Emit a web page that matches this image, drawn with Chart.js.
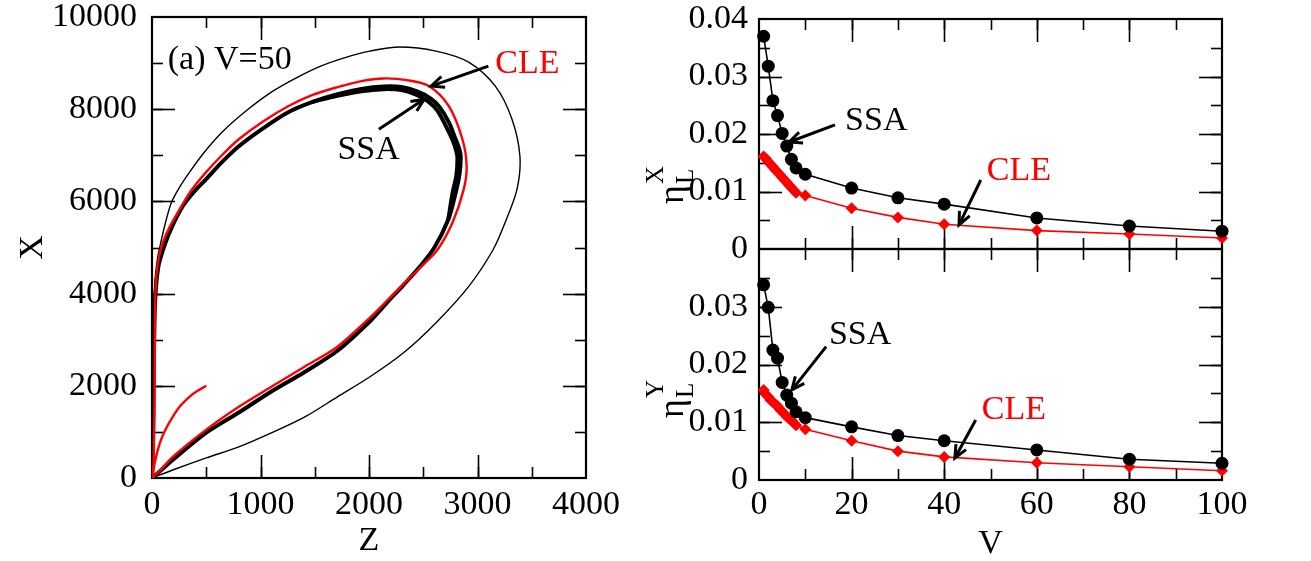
<!DOCTYPE html>
<html>
<head>
<meta charset="utf-8">
<script src="https://cdn.jsdelivr.net/npm/chart.js@4.4.0/dist/chart.umd.min.js"></script>
<style>
  html, body { margin: 0; padding: 0; background: #fff; }
  #wrap { position: relative; width: 1311px; height: 561px; overflow: hidden; }
  canvas { position: absolute; top: 0; }
</style>
</head>
<body>
<div id="wrap">
  <canvas id="cLeft" width="630" height="561" style="left:0"></canvas>
  <canvas id="cTop" width="681" height="561" style="left:630px"></canvas>
  <canvas id="cBot" width="681" height="561" style="left:630px"></canvas>
</div>
<script>
'use strict';
// (a) phase portrait X vs Z at V=50: outer thin loop, SSA band, CLE trajectory
const outerZ = [0, 4, 7, 10, 15, 28, 50, 73, 120, 179, 260, 345, 480, 645, 860, 1100, 1330, 1555, 1780, 2009, 2282, 2618, 2918, 3164, 3318, 3391, 3364, 3255, 3145, 2918, 2618, 2318, 2009, 1709, 1409, 1100, 800, 500, 191, 0];
const outerX = [0, 800, 1800, 2800, 3600, 4300, 4750, 5022, 5500, 5978, 6330, 6630, 7060, 7500, 7950, 8370, 8680, 8935, 9120, 9261, 9348, 9261, 9022, 8500, 7783, 6978, 6261, 5543, 4957, 4152, 3370, 2717, 2196, 1761, 1326, 978, 674, 435, 174, 0];

const ssaZ = [0, 10, 15, 20, 30, 60, 118, 190, 282, 380, 497, 640, 800, 1020, 1255, 1480, 1709, 1930, 2133, 2300, 2450, 2570, 2650, 2740, 2790, 2830, 2845, 2835, 2800, 2730, 2600, 2460, 2315, 2160, 2009, 1709, 1400, 1100, 800, 497, 191, 60, 0];
const ssaX = [0, 1000, 2000, 3000, 3900, 4600, 5065, 5480, 5891, 6190, 6478, 6840, 7196, 7580, 7935, 8160, 8326, 8440, 8493, 8480, 8380, 8230, 8050, 7700, 7400, 7150, 6978, 6600, 6200, 5600, 4990, 4560, 4180, 3790, 3400, 2760, 2290, 1877, 1420, 978, 391, 120, 0];
const ssaInZ = [1480, 1709, 1930, 2133, 2300, 2440, 2550, 2630, 2710, 2770, 2805, 2815, 2805, 2770, 2730];
const ssaInX = [8160, 8290, 8390, 8435, 8415, 8310, 8160, 7970, 7630, 7330, 7090, 6920, 6560, 6180, 5600];

const cleZ = [500, 420, 345, 260, 191, 120, 73, 30, 5, 14, 20, 24, 26, 28, 33, 45, 65, 100, 170, 255, 360, 497, 640, 800, 1020, 1255, 1480, 1709, 1930, 2133, 2350, 2555, 2736, 2861, 2900, 2873, 2770, 2633, 2490, 2340, 2180, 2009, 1709, 1406, 1100, 800, 497, 191, 60, 0];
const cleX = [2000, 1890, 1761, 1560, 1326, 1030, 761, 380, 60, 300, 1000, 2000, 3000, 3600, 4100, 4500, 4800, 5109, 5480, 5826, 6230, 6630, 6990, 7348, 7730, 8065, 8310, 8478, 8610, 8667, 8630, 8500, 8065, 7348, 6761, 6261, 5543, 4957, 4600, 4260, 3880, 3480, 2848, 2413, 1978, 1543, 1043, 457, 130, 0];

// right panels: eta_L^X (top) and eta_L^Y (bottom) vs V
const ssaV = [1, 2, 3, 4, 5, 6, 7, 8, 10, 20, 30, 40, 60, 80, 100];
const ssaEtaX = [0.0370, 0.0318, 0.0258, 0.0232, 0.0201, 0.0179, 0.0156, 0.0141, 0.0130, 0.0106, 0.0089, 0.0078, 0.0054, 0.0040, 0.0031];
const ssaEtaY = [0.0338, 0.0299, 0.0225, 0.0211, 0.0169, 0.0147, 0.0133, 0.0118, 0.0108, 0.0092, 0.0077, 0.0068, 0.0052, 0.0036, 0.0029];
const cleV = [1, 1.5, 2, 2.5, 3, 3.5, 4, 4.5, 5, 5.5, 6, 6.5, 7, 7.5, 8, 10, 20, 30, 40, 60, 80, 100];
const cleEtaX = [0.0161, 0.0157, 0.0152, 0.0147, 0.0143, 0.0138, 0.0134, 0.0129, 0.0125, 0.0120, 0.0116, 0.0111, 0.0107, 0.0102, 0.0098, 0.0093, 0.0071, 0.0055, 0.0043, 0.0032, 0.0026, 0.0019];
const cleEtaY = [0.0156, 0.0148, 0.0144, 0.0138, 0.0135, 0.0131, 0.0128, 0.0122, 0.0119, 0.0114, 0.0110, 0.0106, 0.0103, 0.0099, 0.0095, 0.0088, 0.0068, 0.0050, 0.0040, 0.0030, 0.0023, 0.0016];

const FONT = 'Liberation Serif';
const RED = '#ff0000';

const pts = (xs, ys) => xs.map((v, i) => ({ x: v, y: ys[i] }));
const steps = (min, max, step) => { const out = []; for (let v = min + step; v < max - step / 1e3; v += step) out.push(+v.toFixed(6)); return out; };

// frame + inward ticks on all four sides (xmgrace style)
const frameTicks = {
  id: 'frameTicks',
  beforeDatasetsDraw(chart, args, o) {
    const { ctx, chartArea: a, scales: { x, y } } = chart;
    const line = (x1, y1, x2, y2) => { ctx.beginPath(); ctx.moveTo(x1, y1); ctx.lineTo(x2, y2); ctx.stroke(); };
    ctx.save();
    ctx.strokeStyle = '#000';
    ctx.lineWidth = 1.6;
    [[o.xMinor, 11], [o.xMajor, 23]].forEach(([st, len]) => steps(x.min, x.max, st).forEach((v) => {
      const p = Math.round(x.getPixelForValue(v)) + 0.5;
      line(p, a.bottom, p, a.bottom - len); line(p, a.top, p, a.top + len);
    }));
    [[o.yMinor, 11], [o.yMajor, 23]].forEach(([st, len]) => steps(y.min, y.max, st).forEach((v) => {
      const p = Math.round(y.getPixelForValue(v)) + 0.5;
      line(a.left, p, a.left + len, p); line(a.right, p, a.right - len, p);
    }));
    ctx.lineWidth = 2.2;
    ctx.strokeRect(a.left, a.top, a.right - a.left, a.bottom - a.top);
    ctx.restore();
  },
};

// text labels and arrows placed in data coordinates
const notes = {
  id: 'notes',
  afterDatasetsDraw(chart, args, o) {
    const { ctx, scales: { x, y } } = chart;
    ctx.save();
    (o.items || []).forEach((it) => {
      if (it.text) {
        ctx.font = '34px "' + FONT + '"';
        ctx.fillStyle = it.color || '#000';
        ctx.textAlign = 'left'; ctx.textBaseline = 'middle';
        ctx.fillText(it.text, x.getPixelForValue(it.x), y.getPixelForValue(it.y));
      } else {
        const x1 = x.getPixelForValue(it.x1), y1 = y.getPixelForValue(it.y1);
        const x2 = x.getPixelForValue(it.x2), y2 = y.getPixelForValue(it.y2);
        const ang = Math.atan2(y2 - y1, x2 - x1), h = 14, s = 0.42;
        ctx.strokeStyle = '#000'; ctx.lineWidth = 3; ctx.lineCap = 'butt'; ctx.lineJoin = 'miter';
        ctx.beginPath(); ctx.moveTo(x1, y1); ctx.lineTo(x2 - Math.cos(ang) * 3, y2 - Math.sin(ang) * 3); ctx.stroke();
        ctx.beginPath();
        ctx.moveTo(x2 - h * Math.cos(ang - s), y2 - h * Math.sin(ang - s));
        ctx.lineTo(x2, y2);
        ctx.lineTo(x2 - h * Math.cos(ang + s), y2 - h * Math.sin(ang + s));
        ctx.stroke();
      }
    });
    if (o.eta) { // rotated y title: eta with subscript L and superscript X / Y
      ctx.translate(o.eta.px, o.eta.py);
      ctx.rotate(-Math.PI / 2);
      ctx.fillStyle = '#000'; ctx.textAlign = 'left'; ctx.textBaseline = 'alphabetic';
      ctx.font = '36px "' + FONT + '"';
      ctx.fillText('η', 0, 0);
      ctx.font = '25px "' + FONT + '"';
      ctx.fillText('L', 20, 10);
      ctx.fillText(o.eta.sup, 20, -20);
    }
    ctx.restore();
  },
};

const tickFont = { family: FONT, size: 34, lineHeight: 1 };
const titleFont = { family: FONT, size: 34, lineHeight: 1 };
const noComma = (v) => String(v);

// invisible tick marks give the label gap without adding to the scale padding
function yGrid(gap) {
  return { display: true, drawOnChartArea: false, drawTicks: true, tickLength: gap, color: 'rgba(0,0,0,0)' };
}

Chart.defaults.animation = false;
Chart.defaults.font.family = FONT;

// ---- (a) left panel ---- (first dataset is painted on top)
new Chart(document.getElementById('cLeft'), {
  type: 'scatter',
  data: {
    datasets: [
      { data: pts(cleZ, cleX), showLine: true, borderColor: RED, borderWidth: 2.4, pointRadius: 0, tension: 0.3 },
      { data: pts(ssaZ, ssaX), showLine: true, borderColor: '#000', borderWidth: 4, pointRadius: 0, tension: 0.3 },
      { data: pts(ssaInZ, ssaInX), showLine: true, borderColor: '#000', borderWidth: 4, pointRadius: 0, tension: 0.3 },
      { data: pts(outerZ, outerX), showLine: true, borderColor: '#000', borderWidth: 1.4, pointRadius: 0, tension: 0.3 },
    ],
  },
  options: {
    responsive: false,
    layout: { padding: { top: 17, right: 38, left: 0, bottom: 0 } },
    plugins: {
      legend: { display: false }, tooltip: { enabled: false },
      frameTicks: { xMajor: 1000, xMinor: 500, yMajor: 2000, yMinor: 1000 },
      notes: { items: [
        { text: '(a) V=50', x: 145, y: 9065 },
        { text: 'CLE', x: 3164, y: 8978, color: RED },
        { x1: 3100, y1: 8935, x2: 2573, y2: 8500 },
        { text: 'SSA', x: 1709, y: 7109 },
        { x1: 2091, y1: 7565, x2: 2509, y2: 8217 },
      ] },
    },
    scales: {
      x: {
        type: 'linear', min: 0, max: 4000, border: { display: false },
        grid: { display: false, drawTicks: false },
        afterFit: (s) => { s.height = 83; },
        ticks: { stepSize: 1000, color: '#000', font: tickFont, padding: 10, maxRotation: 0, autoSkip: false, callback: noComma },
        title: { display: true, text: 'Z', color: '#000', font: titleFont, padding: { top: 0, bottom: 3 } },
      },
      y: {
        type: 'linear', min: 0, max: 10000, border: { display: false },
        grid: yGrid(15),
        afterFit: (s) => { s.width = 152; },
        ticks: { stepSize: 2000, color: '#000', font: tickFont, padding: 0, autoSkip: false, callback: noComma },
        title: { display: true, text: 'X', color: '#000', font: titleFont, padding: { top: 16, bottom: 0 } },
      },
    },
  },
  plugins: [frameTicks, notes],
});

// ---- right panels ----
function etaChart(id, ssaVals, cleVals, opts) {
  const isBottom = opts.bottom;
  return new Chart(document.getElementById(id), {
    type: 'scatter',
    data: {
      datasets: [
        { data: pts(ssaV, ssaVals), showLine: true, borderColor: '#000', backgroundColor: '#000', borderWidth: 1.6,
          pointStyle: 'circle', pointRadius: 6.5, pointBorderWidth: 0, clip: false },
        { data: pts(cleV, cleVals), showLine: true, borderColor: RED, backgroundColor: RED, borderWidth: 1.6,
          pointStyle: 'rectRot', pointRadius: 6, pointBorderWidth: 0, clip: false },
      ],
    },
    options: {
      responsive: false,
      layout: { padding: isBottom ? { top: 249, right: 89, left: 0, bottom: 0 } : { top: 19, right: 89, left: 0, bottom: 312 } },
      plugins: {
        legend: { display: false }, tooltip: { enabled: false },
        frameTicks: { xMajor: 20, xMinor: 10, yMajor: 0.01, yMinor: 0.005 },
        notes: { items: opts.items, eta: opts.eta },
      },
      scales: {
        x: {
          type: 'linear', min: 0, max: 100, display: isBottom, border: { display: false },
          grid: { display: false, drawTicks: false },
          afterFit: (s) => { if (isBottom) s.height = 81; },
          ticks: { stepSize: 20, color: '#000', font: tickFont, padding: 8, maxRotation: 0, autoSkip: false },
          title: { display: true, text: 'V', color: '#000', font: titleFont, padding: { top: 0, bottom: 0 } },
        },
        y: {
          type: 'linear', min: 0, max: 0.04, border: { display: false },
          grid: yGrid(11),
          afterFit: (s) => { s.width = 129; },
          ticks: { stepSize: 0.01, color: '#000', font: tickFont, padding: 0, autoSkip: false,
            callback: (v) => (isBottom && v > 0.035) ? '' : (v === 0 ? '0' : v.toFixed(2)) },
        },
      },
    },
    plugins: [frameTicks, notes],
  });
}

etaChart('cTop', ssaEtaX, cleEtaX, {
  bottom: false,
  eta: { px: 53, py: 204, sup: 'X' },
  items: [
    { text: 'SSA', x: 18.6, y: 0.0223 },
    { x1: 16.4, y1: 0.0216, x2: 6.5, y2: 0.0186 },
    { text: 'CLE', x: 49.2, y: 0.0136, color: RED },
    { x1: 47.9, y1: 0.0120, x2: 43.2, y2: 0.0042 },
  ],
});
etaChart('cBot', ssaEtaY, cleEtaY, {
  bottom: true,
  eta: { px: 53, py: 418, sup: 'Y' },
  items: [
    { text: 'SSA', x: 15.1, y: 0.0251 },
    { x1: 14.5, y1: 0.0231, x2: 7.1, y2: 0.0156 },
    { text: 'CLE', x: 48.1, y: 0.0121, color: RED },
    { x1: 46.8, y1: 0.0104, x2: 42.3, y2: 0.0038 },
  ],
});
</script>
</body>
</html>
